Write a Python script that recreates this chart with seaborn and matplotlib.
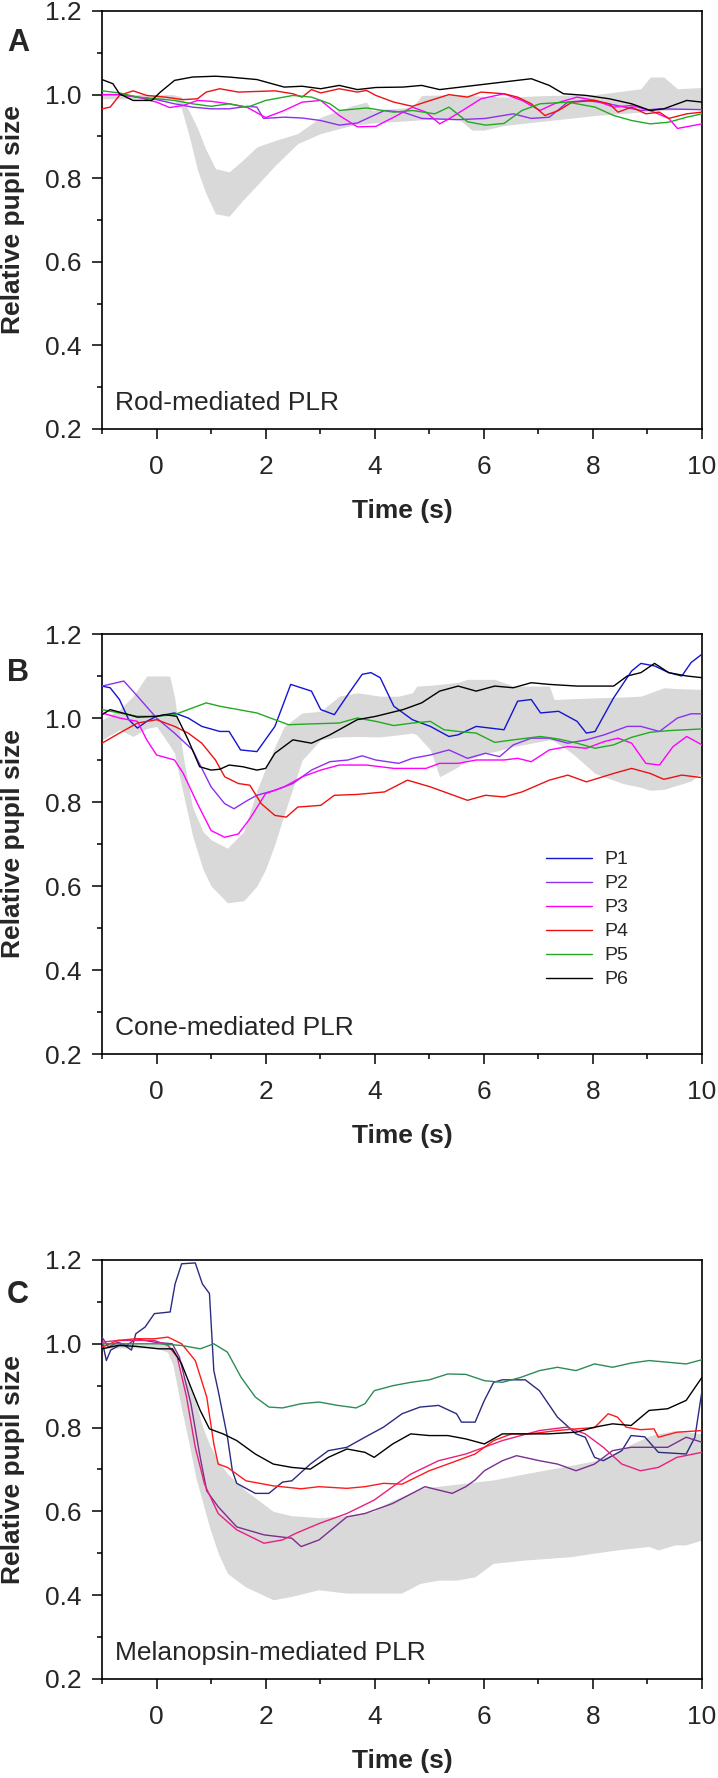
import matplotlib
matplotlib.use("Agg")
import matplotlib.pyplot as plt
from matplotlib.ticker import MultipleLocator
import seaborn as sns

# ---- data ----
# panel A: rod-mediated PLR, grey band = control range
rod_band_t = [-1.0, -0.5, 0.0, 0.3, 0.45, 0.6, 0.75, 0.9, 1.08, 1.33, 1.58, 1.84, 2.17, 2.59, 3.01, 3.6,
              3.85, 3.95, 4.69, 4.86, 5.53, 5.78, 6.0, 6.37, 7.2, 8.04, 8.88, 9.05, 9.3, 9.55, 10.0]
rod_band_lo = [0.99, 0.99, 0.99, 0.99, 0.97, 0.90, 0.82, 0.765, 0.715, 0.709, 0.747, 0.783, 0.83, 0.883, 0.907,
               0.927, 0.93, 0.932, 0.938, 0.94, 0.943, 0.915, 0.915, 0.926, 0.938, 0.95, 0.958, 0.96, 0.962,
               0.964, 0.966]
rod_band_hi = [1.0, 1.0, 1.0, 1.0, 0.995, 0.96, 0.92, 0.87, 0.823, 0.815, 0.843, 0.875, 0.89, 0.907, 0.946,
               0.974, 0.982, 0.962, 0.97, 0.998, 1.0, 0.998, 0.996, 0.994, 0.998, 1.0, 1.014, 1.042, 1.042,
               1.014, 1.017]

rod_p2_t = [-1, -0.68, -0.35, 0, 0.33, 0.66, 1.0, 1.33, 1.67, 1.84, 1.96, 2.34, 2.67, 3.01, 3.35, 3.68, 4.18,
            4.52, 4.86, 5.53, 6.03, 6.54, 6.87, 7.2, 7.54, 7.88, 8.21, 8.88, 9.22, 10]
rod_p2_v = [1.0, 1.0, 0.994, 0.988, 0.978, 0.97, 0.966, 0.966, 0.972, 0.97, 0.943, 0.946, 0.944, 0.938, 0.927,
            0.932, 0.962, 0.958, 0.943, 0.94, 0.943, 0.954, 0.943, 0.946, 0.982, 0.986, 0.98, 0.962, 0.966, 0.964]
rod_p3_t = [-1, -0.68, -0.35, 0, 0.24, 0.49, 0.75, 1.0, 1.33, 1.67, 2.0, 2.34, 2.67, 3.01, 3.35, 3.68, 4.02,
            4.35, 4.69, 4.94, 5.19, 5.36, 5.61, 5.95, 6.37, 6.7, 7.03, 7.29, 7.71, 8.04, 8.38, 8.71, 9.05, 9.39,
            9.55, 10]
rod_p3_v = [1.0, 1.0, 0.994, 0.982, 0.969, 0.974, 0.986, 0.984, 0.978, 0.969, 0.945, 0.962, 0.982, 0.986, 0.95,
            0.923, 0.924, 0.946, 0.97, 0.958, 0.93, 0.942, 0.962, 0.99, 1.002, 0.986, 0.962, 0.978, 0.994, 0.986,
            0.97, 0.974, 0.962, 0.943, 0.919, 0.93]
rod_p4_t = [-1, -0.85, -0.68, -0.43, -0.18, 0.16, 0.49, 0.75, 0.91, 1.16, 1.5, 2.17, 2.5, 2.67, 2.84, 3.01,
            3.35, 3.68, 3.85, 4.02, 4.35, 4.69, 5.02, 5.36, 5.7, 5.95, 6.37, 6.62, 6.87, 7.12, 7.37, 7.62, 8.04,
            8.3, 8.46, 8.71, 8.97, 9.22, 9.39, 9.72, 10]
rod_p4_v = [0.966, 0.97, 0.998, 1.009, 0.998, 0.994, 0.988, 0.99, 1.006, 1.014, 1.006, 1.009, 1.002, 0.994,
            1.012, 1.004, 1.014, 1.006, 1.01, 0.998, 0.982, 0.972, 0.986, 1.0, 0.994, 1.006, 1.002, 0.994, 0.978,
            0.95, 0.962, 0.982, 0.986, 0.978, 0.958, 0.97, 0.954, 0.958, 0.943, 0.954, 0.958]
rod_p5_t = [-1, -0.68, -0.35, 0, 0.33, 0.66, 1.0, 1.33, 1.67, 2.0, 2.5, 2.84, 3.18, 3.35, 3.85, 4.35, 4.69,
            5.1, 5.36, 5.7, 6.03, 6.37, 6.7, 7.03, 7.54, 8.04, 8.38, 8.71, 9.05, 9.39, 9.72, 10]
rod_p5_v = [1.009, 1.004, 0.994, 0.99, 0.986, 0.978, 0.972, 0.978, 0.97, 0.986, 0.998, 0.994, 0.978, 0.962,
            0.968, 0.958, 0.962, 0.954, 0.97, 0.935, 0.927, 0.931, 0.962, 0.978, 0.982, 0.97, 0.95, 0.938, 0.93,
            0.934, 0.946, 0.954]
rod_p6_t = [-1, -0.8, -0.68, -0.43, -0.09, 0.07, 0.33, 0.66, 1.08, 1.33, 1.84, 2.34, 2.67, 3.01, 3.35, 3.68,
            4.02, 4.52, 4.86, 5.19, 6.87, 7.2, 7.46, 7.88, 8.3, 8.71, 9.05, 9.3, 9.72, 10]
rod_p6_v = [1.036, 1.026, 1.002, 0.986, 0.986, 1.006, 1.034, 1.042, 1.044, 1.042, 1.036, 1.018, 1.02, 1.014,
            1.022, 1.012, 1.017, 1.018, 1.022, 1.012, 1.038, 1.022, 1.002, 0.998, 0.99, 0.978, 0.962, 0.966,
            0.986, 0.982]

# panel B: cone-mediated PLR
cone_band_t = [-1, -0.68, -0.43, -0.18, 0.0, 0.24, 0.33, 0.37, 0.49, 0.66, 0.85, 1.0, 1.3, 1.6, 1.84, 2.0,
               2.17, 2.34, 2.67, 3.01, 3.35, 3.68, 4.1, 4.44, 4.69, 4.77, 5.02, 5.19, 5.53, 5.7, 6.03, 6.2,
               6.54, 7.2, 7.29, 7.62, 8.04, 8.55, 8.88, 9.05, 9.3, 9.55, 9.8, 10]
cone_band_hi = [0.995, 1.02, 1.052, 1.1, 1.1, 1.1, 1.05, 1.012, 0.908, 0.788, 0.73, 0.71, 0.69, 0.73, 0.828,
                0.88, 0.932, 0.98, 1.012, 1.016, 1.052, 1.06, 1.052, 1.052, 1.06, 1.076, 1.078, 1.08, 1.085,
                1.092, 1.092, 1.092, 1.076, 1.076, 1.044, 1.046, 1.048, 1.05, 1.052, 1.06, 1.072, 1.07, 1.069,
                1.068]
cone_band_lo = [0.948, 0.972, 0.956, 0.975, 0.98, 0.935, 0.916, 0.89, 0.82, 0.72, 0.64, 0.6, 0.56, 0.565, 0.6,
                0.64, 0.7, 0.77, 0.9, 0.948, 0.955, 0.956, 0.955, 0.96, 0.964, 0.96, 0.924, 0.86, 0.884, 0.9,
                0.916, 0.92, 0.932, 0.948, 0.945, 0.916, 0.868, 0.844, 0.835, 0.828, 0.83, 0.84, 0.85, 0.87]

cone_p1_t = [-1, -0.85, -0.68, -0.51, -0.35, -0.18, 0, 0.33, 0.58, 0.83, 1.16, 1.33, 1.54, 1.84, 2.17, 2.46,
             2.84, 3.01, 3.26, 3.51, 3.77, 3.93, 4.1, 4.35, 4.69, 5.02, 5.36, 5.53, 5.86, 6.37, 6.62, 6.87, 7.04,
             7.37, 7.71, 7.88, 8.04, 8.38, 8.71, 8.88, 9.13, 9.39, 9.63, 9.8, 10]
cone_p1_v = [1.076, 1.072, 1.044, 0.996, 0.976, 0.992, 1.004, 1.012, 1.0, 0.98, 0.968, 0.968, 0.924, 0.92,
             0.98, 1.08, 1.064, 1.02, 1.008, 1.056, 1.104, 1.108, 1.096, 1.028, 0.996, 0.98, 0.956, 0.96, 0.98,
             0.972, 1.04, 1.044, 1.012, 1.016, 0.992, 0.964, 0.968, 1.048, 1.112, 1.13, 1.124, 1.108, 1.1,
             1.132, 1.152]
cone_p2_t = [-1, -0.6, -0.35, 0, 0.33, 0.66, 1.0, 1.25, 1.42, 1.67, 1.84, 2.17, 2.5, 2.84, 3.18, 3.51, 3.77,
             4.02, 4.44, 4.69, 5.02, 5.36, 5.7, 6.03, 6.29, 6.54, 6.87, 7.2, 7.54, 7.88, 8.21, 8.63, 8.88, 9.22,
             9.55, 9.8, 10]
cone_p2_v = [1.076, 1.088, 1.052, 1.0, 0.964, 0.924, 0.836, 0.796, 0.784, 0.804, 0.816, 0.828, 0.844, 0.876,
             0.896, 0.9, 0.91, 0.9, 0.892, 0.904, 0.912, 0.924, 0.904, 0.916, 0.908, 0.936, 0.952, 0.952, 0.94,
             0.948, 0.96, 0.98, 0.98, 0.968, 1.0, 1.01, 1.01]
cone_p3_t = [-1, -0.68, -0.35, -0.18, 0, 0.33, 0.49, 0.75, 1.0, 1.25, 1.5, 1.71, 2.0, 2.34, 2.67, 3.01, 3.35,
             3.85, 4.35, 4.94, 5.19, 5.53, 5.86, 6.37, 6.62, 6.87, 7.2, 7.54, 7.88, 8.21, 8.46, 8.71, 8.97, 9.22,
             9.47, 9.72, 10]
cone_p3_v = [1.012, 1.0, 0.992, 0.948, 0.912, 0.9, 0.868, 0.796, 0.732, 0.716, 0.724, 0.76, 0.82, 0.836, 0.86,
             0.876, 0.888, 0.888, 0.88, 0.88, 0.892, 0.892, 0.9, 0.9, 0.904, 0.896, 0.924, 0.932, 0.928, 0.944,
             0.952, 0.94, 0.892, 0.888, 0.932, 0.956, 0.936]
cone_p4_t = [-1, -0.68, -0.35, 0, 0.33, 0.58, 0.83, 1.08, 1.25, 1.5, 1.71, 1.92, 2.17, 2.38, 2.59, 3.01, 3.26,
             3.68, 4.18, 4.6, 5.02, 5.36, 5.7, 6.03, 6.37, 6.7, 7.2, 7.54, 7.88, 8.38, 8.71, 9.05, 9.3, 9.63, 10]
cone_p4_v = [0.94, 0.964, 0.988, 0.996, 0.98, 0.964, 0.94, 0.9, 0.86, 0.844, 0.84, 0.796, 0.768, 0.764, 0.788,
             0.792, 0.816, 0.818, 0.824, 0.852, 0.836, 0.82, 0.804, 0.816, 0.812, 0.824, 0.852, 0.864, 0.848,
             0.868, 0.88, 0.868, 0.854, 0.864, 0.858]
cone_p5_t = [-1, -0.68, -0.35, 0, 0.33, 0.66, 0.91, 1.16, 1.5, 1.84, 2.17, 2.42, 2.84, 3.35, 3.68, 4.02, 4.35,
             4.69, 5.02, 5.27, 5.53, 5.86, 6.2, 6.54, 7.04, 7.37, 7.71, 8.04, 8.38, 8.71, 9.05, 9.39, 10]
cone_p5_v = [1.02, 1.012, 1.004, 1.004, 1.008, 1.024, 1.036, 1.028, 1.02, 1.012, 0.996, 0.984, 0.986, 0.988,
             1.0, 0.992, 0.982, 0.988, 0.992, 0.972, 0.968, 0.964, 0.942, 0.948, 0.956, 0.95, 0.94, 0.928, 0.936,
             0.954, 0.966, 0.97, 0.974]
cone_p6_t = [-1, -0.85, -0.51, -0.35, 0, 0.16, 0.37, 0.58, 0.79, 1.0, 1.16, 1.33, 1.58, 1.84, 2.0, 2.17, 2.5,
             2.84, 3.18, 3.68, 4.02, 4.52, 4.86, 5.19, 5.53, 5.86, 6.2, 6.54, 6.87, 7.2, 7.71, 8.04, 8.38, 8.63,
             8.88, 9.13, 9.39, 9.72, 10]
cone_p6_v = [1.008, 1.02, 1.008, 1.002, 1.004, 1.008, 1.004, 0.948, 0.884, 0.876, 0.878, 0.888, 0.884, 0.876,
             0.88, 0.916, 0.948, 0.94, 0.96, 0.996, 1.004, 1.02, 1.036, 1.064, 1.076, 1.064, 1.076, 1.072, 1.084,
             1.08, 1.076, 1.076, 1.076, 1.1, 1.108, 1.13, 1.108, 1.1, 1.096]

# panel C: melanopsin-mediated PLR
mel_band_t = [-1, 0.0, 0.2, 0.3, 0.45, 0.6, 0.72, 0.85, 0.97, 1.13, 1.3, 1.63, 2.14, 2.47, 2.97, 3.48, 3.98,
              4.3, 4.49, 4.83, 5.17, 5.5, 5.84, 6.17, 6.76, 7.6, 8.0, 8.44, 8.7, 9.03, 9.2, 9.5, 9.7, 10]
mel_band_hi = [1.0, 1.0, 1.0, 0.99, 0.93, 0.9, 0.86, 0.8, 0.76, 0.72, 0.69, 0.65, 0.6, 0.59, 0.585, 0.59, 0.6,
               0.625, 0.635, 0.655, 0.66, 0.665, 0.67, 0.675, 0.69, 0.71, 0.72, 0.74, 0.76, 0.78, 0.785, 0.793,
               0.79, 0.785]
mel_band_lo = [0.99, 0.99, 0.98, 0.95, 0.85, 0.76, 0.68, 0.62, 0.563, 0.5, 0.452, 0.42, 0.389, 0.397, 0.413,
               0.405, 0.405, 0.405, 0.405, 0.428, 0.436, 0.436, 0.444, 0.476, 0.484, 0.492, 0.5, 0.508, 0.512,
               0.516, 0.508, 0.52, 0.52, 0.532]

mel_p1_t = [-1, -0.92, -0.84, -0.63, -0.46, -0.38, -0.21, -0.04, 0.25, 0.34, 0.46, 0.71, 0.84, 0.97, 1.05,
            1.13, 1.3, 1.39, 1.47, 1.81, 2.06, 2.31, 2.48, 2.82, 3.15, 3.49, 3.82, 4.16, 4.5, 4.83, 5.17, 5.5,
            5.59, 5.84, 6.01, 6.18, 6.34, 6.76, 7.02, 7.35, 7.69, 7.86, 8.03, 8.19, 8.53, 8.7, 8.95, 9.2, 9.71,
            9.87, 10]
mel_p1_v = [1.008, 0.96, 0.985, 1.0, 0.985, 1.024, 1.04, 1.072, 1.076, 1.143, 1.191, 1.193, 1.143, 1.12, 0.936,
            0.888, 0.777, 0.697, 0.667, 0.643, 0.643, 0.67, 0.673, 0.713, 0.745, 0.753, 0.777, 0.801, 0.833,
            0.849, 0.853, 0.833, 0.813, 0.813, 0.865, 0.908, 0.914, 0.914, 0.888, 0.825, 0.785, 0.777, 0.729,
            0.721, 0.745, 0.781, 0.778, 0.741, 0.737, 0.777, 0.888]
mel_p2_t = [-1, -0.88, -0.71, -0.55, -0.38, -0.04, 0.29, 0.42, 0.63, 0.8, 0.92, 1.13, 1.47, 1.97, 2.48, 2.65,
            2.98, 3.49, 3.82, 4.33, 4.92, 5.17, 5.42, 5.67, 5.84, 6.01, 6.34, 6.6, 7.02, 7.35, 7.69, 8.03, 8.36,
            8.7, 9.03, 9.37, 9.71, 10]
mel_p2_v = [1.016, 0.992, 1.004, 0.996, 1.012, 1.004, 1.0, 0.968, 0.857, 0.729, 0.649, 0.611, 0.563, 0.544,
            0.536, 0.516, 0.532, 0.587, 0.595, 0.619, 0.659, 0.651, 0.643, 0.659, 0.675, 0.697, 0.721, 0.733,
            0.721, 0.713, 0.697, 0.713, 0.745, 0.753, 0.753, 0.753, 0.777, 0.765]
mel_p3_t = [-1, -0.71, -0.38, -0.04, 0.21, 0.38, 0.55, 0.71, 0.88, 1.13, 1.47, 1.97, 2.31, 2.56, 2.98, 3.49,
            3.99, 4.33, 4.66, 5.17, 5.67, 6.34, 7.02, 7.52, 7.86, 8.19, 8.53, 8.87, 9.2, 9.54, 10]
mel_p3_v = [1.004, 1.008, 1.008, 1.008, 0.996, 0.968, 0.873, 0.753, 0.665, 0.595, 0.556, 0.524, 0.532, 0.548,
            0.571, 0.595, 0.627, 0.659, 0.689, 0.721, 0.737, 0.769, 0.793, 0.801, 0.785, 0.753, 0.713, 0.697,
            0.705, 0.729, 0.741]
mel_p4_t = [-1, -0.71, -0.38, -0.04, 0.21, 0.46, 0.71, 0.92, 1.05, 1.13, 1.3, 1.64, 2.14, 2.65, 2.98, 3.49,
            3.82, 4.16, 4.5, 5.0, 5.34, 5.84, 6.18, 6.51, 6.85, 7.35, 7.69, 8.03, 8.28, 8.45, 8.61, 8.87, 9.12,
            9.2, 9.54, 10]
mel_p4_v = [0.992, 1.008, 1.012, 1.012, 1.016, 1.0, 0.96, 0.873, 0.761, 0.713, 0.705, 0.673, 0.661, 0.654,
            0.659, 0.655, 0.659, 0.667, 0.665, 0.697, 0.713, 0.737, 0.769, 0.785, 0.785, 0.793, 0.797, 0.8,
            0.833, 0.825, 0.801, 0.795, 0.797, 0.777, 0.789, 0.793]
mel_p5_t = [-1, -0.38, 0.04, 0.46, 0.8, 1.05, 1.3, 1.55, 1.81, 2.06, 2.31, 2.65, 2.98, 3.32, 3.66, 3.82, 3.99,
            4.33, 4.66, 5.0, 5.34, 5.67, 6.01, 6.34, 6.68, 7.02, 7.35, 7.69, 8.03, 8.36, 8.7, 9.03, 9.37, 9.71, 10]
mel_p5_v = [1.0, 1.0, 1.0, 0.996, 0.988, 1.0, 0.98, 0.92, 0.873, 0.849, 0.847, 0.857, 0.861, 0.853, 0.847,
            0.857, 0.888, 0.9, 0.908, 0.914, 0.928, 0.927, 0.912, 0.908, 0.92, 0.936, 0.944, 0.936, 0.952, 0.944,
            0.954, 0.96, 0.956, 0.952, 0.962]
mel_p6_t = [-1, -0.71, -0.38, 0.04, 0.29, 0.46, 0.63, 0.8, 0.97, 1.22, 1.47, 1.81, 2.14, 2.48, 2.82, 3.15,
            3.49, 3.82, 3.99, 4.33, 4.66, 5.0, 5.34, 5.67, 6.01, 6.34, 6.68, 7.18, 7.69, 8.03, 8.36, 8.7, 9.03,
            9.37, 9.71, 10]
mel_p6_v = [0.988, 0.996, 0.994, 0.988, 0.988, 0.952, 0.896, 0.841, 0.797, 0.785, 0.769, 0.737, 0.713, 0.705,
            0.701, 0.729, 0.749, 0.741, 0.729, 0.761, 0.785, 0.781, 0.781, 0.773, 0.761, 0.785, 0.785, 0.785,
            0.789, 0.801, 0.809, 0.805, 0.841, 0.845, 0.865, 0.92]

names = ["P1", "P2", "P3", "P4", "P5", "P6"]
colors_ab = ["#1414d2", "#8c30f0", "#ff00ff", "#ee1111", "#22aa22", "#000000"]
colors_c = ["#2b2b80", "#7b2f8e", "#e8207f", "#ff1a1a", "#2e8b57", "#000000"]

# ---- style ----
sns.set_style("ticks")
plt.rcParams["font.family"] = ["Liberation Sans", "DejaVu Sans"]

fig = plt.figure(figsize=(7.18, 17.78), dpi=100)
W, H = 718, 1778


def make_ax(top, bottom, left=102, right=702):
    return fig.add_axes([left / W, 1 - bottom / H, (right - left) / W, (bottom - top) / H])


def style_ax(ax, note):
    ax.set_xlim(-1, 10)
    ax.set_ylim(0.2, 1.2)
    ax.xaxis.set_major_locator(MultipleLocator(2))
    ax.xaxis.set_minor_locator(MultipleLocator(1))
    ax.yaxis.set_major_locator(MultipleLocator(0.2))
    ax.yaxis.set_minor_locator(MultipleLocator(0.1))
    ax.yaxis.set_major_formatter(matplotlib.ticker.FormatStrFormatter("%.1f"))
    for s in ax.spines.values():
        s.set_visible(True)
        s.set_linewidth(1.2)
        s.set_color("black")
    ax.tick_params(which="both", direction="out", top=False, right=False, width=1.1, color="black")
    ax.tick_params(which="major", length=7, labelsize=19)
    ax.tick_params(which="minor", length=3.6)
    ax.tick_params(axis="x", which="major", pad=11.5)
    ax.tick_params(axis="y", which="major", pad=8)
    ax.set_xlabel("Time (s)", fontsize=19, fontweight="bold")
    ax.set_ylabel("Relative pupil size", fontsize=19, fontweight="bold")
    ax.xaxis.set_label_coords(0.5, -0.167)
    ax.yaxis.set_label_coords(-0.128, 0.5)
    ax.text(0.022, 0.063, note, transform=ax.transAxes, fontsize=19, ha="left", va="center")


def draw(ax, band_t, band_lo, band_hi, series, cols):
    ax.fill_between(band_t, band_lo, band_hi, color="#d9d9d9", lw=0, zorder=1)
    for name, (t, v), c in zip(names, series, cols):
        if t is None:
            continue
        sns.lineplot(x=t, y=v, ax=ax, color=c, lw=1.0, estimator=None, sort=False,
                     label=name, legend=False, zorder=3)
    if ax.get_legend() is not None:
        ax.get_legend().remove()


# panel A
axA = make_ax(11, 429)
draw(axA, rod_band_t, rod_band_lo, rod_band_hi,
     [(None, None), (rod_p2_t, rod_p2_v), (rod_p3_t, rod_p3_v), (rod_p4_t, rod_p4_v),
      (rod_p5_t, rod_p5_v), (rod_p6_t, rod_p6_v)], colors_ab)
style_ax(axA, "Rod-mediated PLR")

# panel B
axB = make_ax(634, 1054)
draw(axB, cone_band_t, cone_band_lo, cone_band_hi,
     [(cone_p1_t, cone_p1_v), (cone_p2_t, cone_p2_v), (cone_p3_t, cone_p3_v), (cone_p4_t, cone_p4_v),
      (cone_p5_t, cone_p5_v), (cone_p6_t, cone_p6_v)], colors_ab)
style_ax(axB, "Cone-mediated PLR")
handles, labels = axB.get_legend_handles_labels()
axB.legend(handles, labels, loc="upper left", bbox_to_anchor=(0.74, 0.484), frameon=False, fontsize=14,
           handlelength=2.35, handletextpad=0.65, labelspacing=0.33, borderaxespad=0, borderpad=0)

# panel C
axC = make_ax(1260, 1679)
draw(axC, mel_band_t, mel_band_lo, mel_band_hi,
     [(mel_p1_t, mel_p1_v), (mel_p2_t, mel_p2_v), (mel_p3_t, mel_p3_v), (mel_p4_t, mel_p4_v),
      (mel_p5_t, mel_p5_v), (mel_p6_t, mel_p6_v)], colors_c)
style_ax(axC, "Melanopsin-mediated PLR")

for letter, y in [("A", 43), ("B", 673), ("C", 1295)]:
    fig.text(18 / W, 1 - y / H, letter, fontsize=22, fontweight="bold", ha="center", va="center")

fig.savefig("out.png", dpi=100)
